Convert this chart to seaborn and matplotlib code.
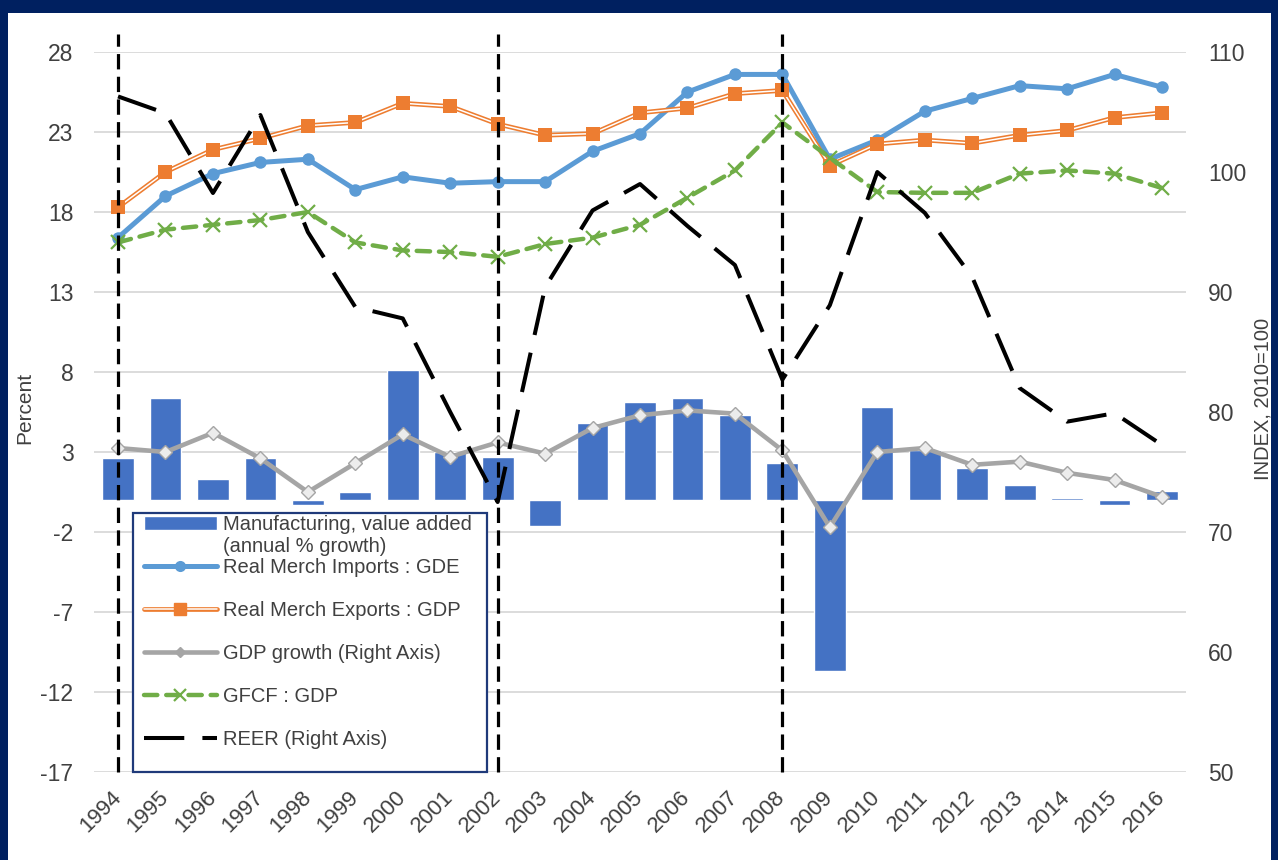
import numpy as np
import matplotlib
matplotlib.use("Agg")
import matplotlib.pyplot as plt
from matplotlib.lines import Line2D
from matplotlib.patches import Patch, Rectangle
import seaborn as sns

# data
years = list(range(1994, 2017))
manufacturing = [2.6, 6.4, 1.3, 2.6, -0.3, 0.5, 8.1, 3.0, 2.7, -1.6, 4.8, 6.1,
                 6.4, 5.3, 2.3, -10.7, 5.8, 3.1, 2.0, 0.95, 0.15, -0.3, 0.55]
imports_gde = [16.4, 19.0, 20.4, 21.1, 21.3, 19.4, 20.2, 19.8, 19.9, 19.9, 21.8, 22.9,
               25.5, 26.6, 26.6, 21.3, 22.5, 24.3, 25.1, 25.9, 25.7, 26.6, 25.8]
exports_gdp = [18.3, 20.5, 21.9, 22.6, 23.4, 23.6, 24.8, 24.6, 23.5, 22.8, 22.9, 24.2,
               24.5, 25.4, 25.6, 20.9, 22.25, 22.5, 22.3, 22.8, 23.1, 23.9, 24.2]
gdp_growth = [3.25, 3.0, 4.2, 2.6, 0.5, 2.3, 4.1, 2.7, 3.6, 2.9, 4.5, 5.3,
              5.6, 5.4, 3.1, -1.7, 3.0, 3.25, 2.2, 2.4, 1.7, 1.25, 0.2]
gfcf_gdp = [16.1, 16.9, 17.2, 17.5, 18.0, 16.1, 15.6, 15.5, 15.2, 16.0, 16.4, 17.2,
            18.9, 20.6, 23.6, 21.4, 19.25, 19.2, 19.2, 20.4, 20.6, 20.4, 19.5]
reer = [106.3, 104.9, 98.25, 104.75, 95.0, 88.75, 87.8, 80.0, 72.5, 90.4, 96.8, 99.0,
        95.5, 92.25, 82.7, 88.9, 100.0, 96.6, 91.25, 82.0, 79.2, 79.9, 77.25]
break_years = [1994, 2002, 2008]

left_ticks = list(range(-17, 29, 5))
right_ticks = list(range(50, 111, 10))

# colours
BAR = "#4472C4"
BLUE = "#5B9BD5"
ORANGE = "#ED7D31"
GREY = "#A5A5A5"
GREEN = "#70AD47"
NAVY = "#002060"
TXT = "#404040"

sns.set_theme(style="white")
plt.rcParams["font.family"] = ["Liberation Sans", "DejaVu Sans"]
plt.rcParams["axes.unicode_minus"] = False

fig = plt.figure(figsize=(12.78, 8.6), dpi=100)
ax = fig.add_axes([0.0738, 0.1023, 0.8540, 0.8372])

# bars
sns.barplot(x=years, y=manufacturing, native_scale=True, width=0.67, color=BAR,
            saturation=1, errorbar=None, ax=ax, zorder=2)

# imports
sns.lineplot(x=years, y=imports_gde, ax=ax, color=BLUE, lw=3.6, marker="o",
             markersize=9, markeredgewidth=0, zorder=4)
# exports: double line
sns.lineplot(x=years, y=exports_gdp, ax=ax, color=ORANGE, lw=3.4, zorder=4)
sns.lineplot(x=years, y=exports_gdp, ax=ax, color="white", lw=1.1, zorder=4)
sns.scatterplot(x=years, y=exports_gdp, ax=ax, color=ORANGE, marker="s", s=95,
                linewidth=0, zorder=4)
# gdp growth
sns.lineplot(x=years, y=gdp_growth, ax=ax, color=GREY, lw=3.3, marker="D",
             markersize=7, markerfacecolor="#ececec", markeredgecolor=GREY,
             markeredgewidth=1.0, zorder=4)
# gfcf
sns.lineplot(x=years, y=gfcf_gdp, ax=ax, color=GREEN, lw=3.2,
             linestyle=(0, (3.0, 2.0)), dash_capstyle="round", marker="x",
             markersize=10, markeredgewidth=1.6, markeredgecolor=GREEN, zorder=4)

# vertical break lines
ax.vlines(break_years, -17, 29.1, colors="black", lw=2.3,
          linestyles=(0, (4.8, 2.3)), clip_on=False, zorder=5)

ax.set_ylim(-17, 28)
ax.set_yticks(left_ticks)
ax.set_xlim(1993.5, 2016.5)
ax.set_xticks(years)
ax.set_xticklabels([str(y) for y in years], rotation=45, ha="right",
                   va="center", rotation_mode="anchor")
ax.yaxis.grid(True, color="#d9d9d9", lw=1.3)
ax.xaxis.grid(False)
ax.set_axisbelow(True)
ax.tick_params(axis="y", labelsize=16.5, colors=TXT, length=0, pad=15)
ax.tick_params(axis="x", labelsize=16, colors=TXT, length=0, pad=16)
ax.set_ylabel("Percent", fontsize=15, color=TXT)
ax.yaxis.set_label_coords(-0.0552, 0.505)
for s in ax.spines.values():
    s.set_visible(False)

# right axis: REER
ax2 = ax.twinx()
sns.lineplot(x=years, y=reer, ax=ax2, color="black", lw=2.9,
             linestyle=(0, (10, 4.5)), zorder=3)
ax2.set_ylim(50, 110)
ax2.set_yticks(right_ticks)
ax2.set_xlim(1993.5, 2016.5)
ax2.tick_params(axis="y", labelsize=16.5, colors=TXT, length=0, pad=16)
ax2.set_ylabel("INDEX, 2010=100", fontsize=14.5, color=TXT)
ax2.yaxis.set_label_coords(1.0621, 0.518)
ax2.grid(False)
for s in ax2.spines.values():
    s.set_visible(False)


def ax_x(px):
    return (px - 94.3) / 1091.4


def ax_y(py):
    return (772 - py) / 720


# legend box
box = Rectangle((ax_x(133), 0), (487 - 133) / 1091.4, (772 - 513) / 720,
                transform=ax2.transAxes, facecolor="white", edgecolor="#1F3A7A",
                lw=1.6, zorder=6, clip_on=False)
ax2.add_patch(box)

handles = [
    Patch(facecolor=BAR),
    Line2D([], [], color=BLUE, lw=3.6, marker="o", markersize=8, markeredgewidth=0),
    (Line2D([], [], color=ORANGE, lw=3.4),
     Line2D([], [], color="white", lw=1.1),
     Line2D([], [], color=ORANGE, marker="s", markersize=8, linestyle="none")),
    Line2D([], [], color=GREY, lw=3.3, marker="D", markersize=5),
    Line2D([], [], color=GREEN, lw=3.2, linestyle=(0, (3.0, 2.0)),
           dash_capstyle="round", marker="x", markersize=8, markeredgewidth=1.6),
    Line2D([], [], color="black", lw=2.9, linestyle=(0, (10, 4.5))),
]
labels = ["Manufacturing, value added", "Real Merch Imports : GDE",
          "Real Merch Exports : GDP", "GDP growth (Right Axis)",
          "GFCF : GDP", "REER (Right Axis)"]
leg = ax2.legend(handles, labels, loc="upper left",
                 bbox_to_anchor=(ax_x(142), ax_y(513)), frameon=False,
                 fontsize=14.5, labelcolor=TXT, handlelength=3.6,
                 handletextpad=0.3, borderpad=0.1, borderaxespad=0,
                 labelspacing=1.19)
leg.set_zorder(7)

fig.canvas.draw()
bb = leg.get_texts()[0].get_window_extent()
W, H = fig.get_size_inches() * fig.dpi
fig.text(bb.x0 / W, (bb.y0 - 3) / H, "(annual % growth)", fontsize=14.5,
         color=TXT, va="top", ha="left", zorder=8)

# navy frame
fig.add_artist(Rectangle((0, 1 - 12.5 / 860), 1, 12.5 / 860, transform=fig.transFigure,
                         facecolor=NAVY, edgecolor="none"))
fig.add_artist(Rectangle((0, 0), 8 / 1278, 1, transform=fig.transFigure,
                         facecolor=NAVY, edgecolor="none"))
fig.add_artist(Rectangle((1 - 7 / 1278, 0), 7 / 1278, 1, transform=fig.transFigure,
                         facecolor=NAVY, edgecolor="none"))

fig.savefig("out.png", dpi=100)
